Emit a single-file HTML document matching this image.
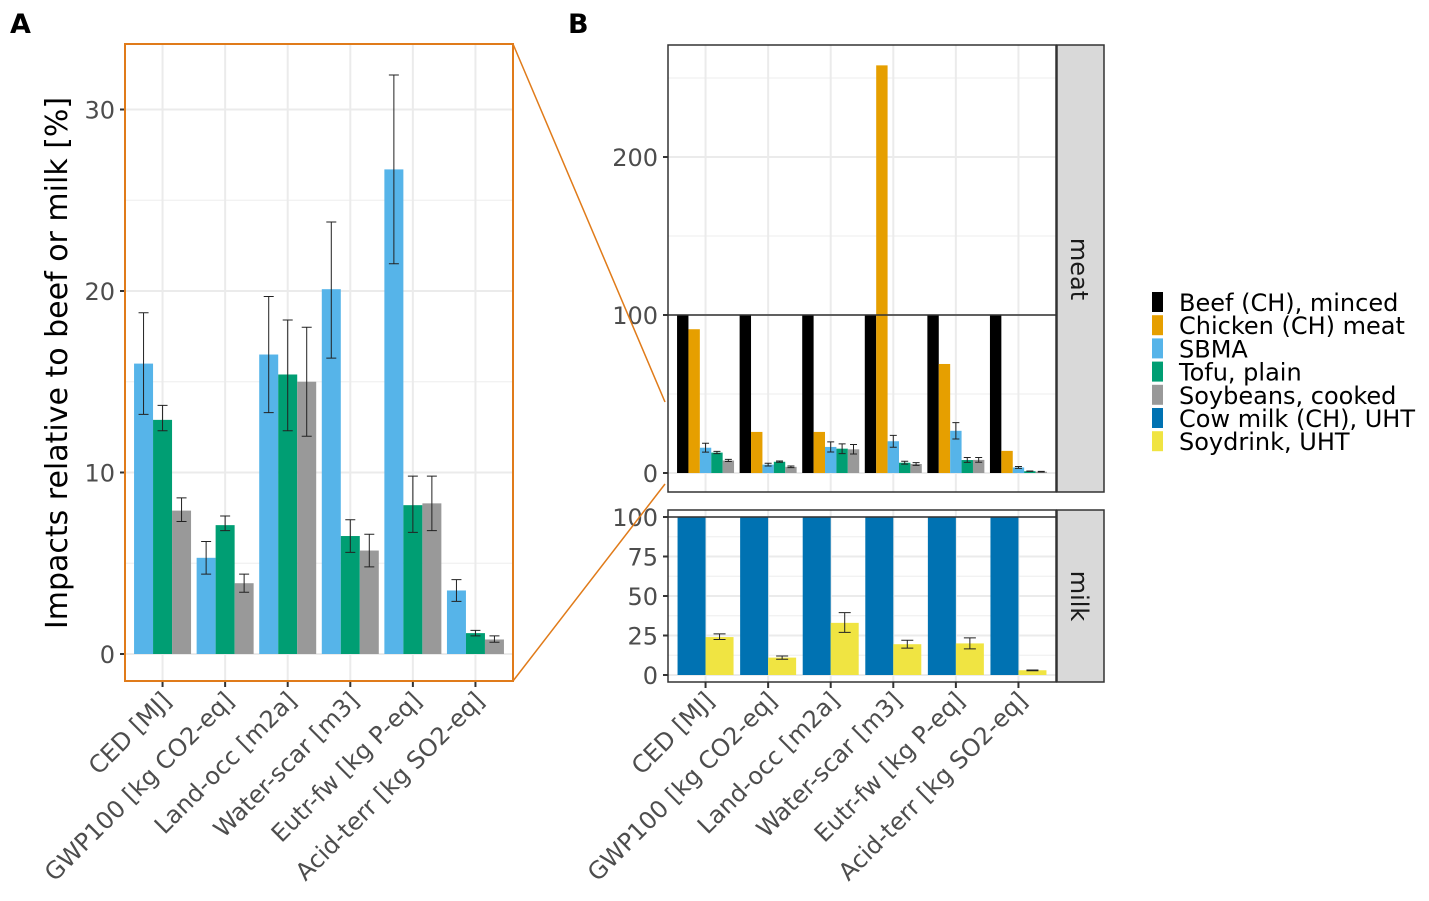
<!DOCTYPE html>
<html><head><meta charset="utf-8"><style>
body{margin:0;background:#fff;}
svg{display:block;font-family:"DejaVu Sans","Liberation Sans",sans-serif;}
</style></head><body>
<svg id="chart" width="1429" height="901" viewBox="0 0 1429 901">
<g id="gA"></g>
<g id="gM"></g>
<g id="gK"></g>
<g id="gX"></g>
<g id="gL"></g>
</svg>
<script>
const categories=["CED [MJ]","GWP100 [kg CO2-eq]","Land-occ [m2a]","Water-scar [m3]","Eutr-fw [kg P-eq]","Acid-terr [kg SO2-eq]"];
const sbma=[16.0,5.3,16.5,20.1,26.7,3.5];
const sbmaLo=[13.2,4.4,13.3,16.3,21.5,2.9];
const sbmaHi=[18.8,6.2,19.7,23.8,31.9,4.1];
const tofu=[12.9,7.1,15.4,6.5,8.2,1.15];
const tofuLo=[12.3,6.8,12.3,5.6,6.7,1.0];
const tofuHi=[13.7,7.6,18.4,7.4,9.8,1.3];
const soy=[7.9,3.9,15.0,5.7,8.3,0.8];
const soyLo=[7.3,3.4,12.0,4.8,6.8,0.65];
const soyHi=[8.6,4.4,18.0,6.6,9.8,1.0];
const beef=[100,100,100,100,100,100];
const chicken=[91,26,26,258,69,14];
const cowMilk=[100,100,100,100,100,100];
const soydrink=[24,11,33,19.5,20,3];
const soydrinkLo=[22.5,10,27,17,16.5,2.7];
const soydrinkHi=[26,12,39.5,22,23.5,3.2];
const ticksA=[0,10,20,30];
const ticksMeat=[0,100,200];
const ticksMilk=[0,25,50,75,100];
const legendLabels=["Beef (CH), minced","Chicken (CH) meat","SBMA","Tofu, plain","Soybeans, cooked","Cow milk (CH), UHT","Soydrink, UHT"];
const legendColors=["#000000","#E69F00","#56B4E9","#009E73","#999999","#0072B2","#F0E442"];

const NS="http://www.w3.org/2000/svg";
function mk(tag,attrs,parent){const e=document.createElementNS(NS,tag);for(const k in attrs)e.setAttribute(k,attrs[k]);parent.appendChild(e);return e;}
const C={beef:"#000000",chicken:"#E69F00",sbma:"#56B4E9",tofu:"#009E73",soy:"#999999",cow:"#0072B2",sd:"#F0E442"};

function panel(g,x0,x1,y0,y1,yScale,ticks,minor){
  mk('rect',{x:x0,y:y0,width:x1-x0,height:y1-y0,fill:'#fff'},g);
  minor.forEach(v=>{mk('line',{x1:x0,x2:x1,y1:yScale(v),y2:yScale(v),stroke:'#f0f0f0','stroke-width':1.2},g);});
  ticks.forEach(v=>{mk('line',{x1:x0,x2:x1,y1:yScale(v),y2:yScale(v),stroke:'#ebebeb','stroke-width':2},g);});
  const step=(x1-x0)/6.2;
  categories.forEach((c,i)=>{const cx=x0+step*(0.6+i);mk('line',{x1:cx,x2:cx,y1:y0,y2:y1,stroke:'#ebebeb','stroke-width':2},g);});
  ticks.forEach(v=>{
    mk('line',{x1:x0-5,x2:x0,y1:yScale(v),y2:yScale(v),stroke:'#333','stroke-width':2},g);
    const t=mk('text',{x:x0-10,y:yScale(v)+9,'text-anchor':'end','font-size':24,fill:'#4d4d4d'},g);t.textContent=v;
    
    
  });
  return step;
}
function bar(g,x,w,y0,y,fill,name){const r=mk('rect',{x:x,y:Math.min(y,y0),width:w,height:Math.abs(y0-y),fill:fill},g);
  
  }
function err(g,cx,ylo,yhi,hw){
  mk('path',{d:`M${cx-hw},${ylo}H${cx+hw}M${cx},${ylo}V${yhi}M${cx-hw},${yhi}H${cx+hw}`,stroke:'#222','stroke-width':1,fill:'none'},g);}

// Panel A
const gA=document.getElementById('gA');
const yA=v=>654-v*18.15;
const xa0=125,xa1=513;
const stepA=panel(gA,xa0,xa1,44,681,yA,ticksA,[5,15,25]);
const bwA=19;
categories.forEach((c,i)=>{
  const cx=xa0+stepA*(0.6+i);const gx=cx-1.5*bwA;
  [[sbma,sbmaLo,sbmaHi,C.sbma,'bar-sbma'],[tofu,tofuLo,tofuHi,C.tofu,'bar-tofu'],[soy,soyLo,soyHi,C.soy,'bar-soybeans']].forEach((s,k)=>{
    bar(gA,gx+k*bwA,bwA,yA(0),yA(s[0][i]),s[3],s[4]);
    err(gA,gx+k*bwA+bwA/2,yA(s[1][i]),yA(s[2][i]),5);
  });
  mk('line',{x1:cx,x2:cx,y1:681,y2:687,stroke:'#333','stroke-width':2},gA);
});
mk('rect',{x:xa0,y:44,width:xa1-xa0,height:637,fill:'none',stroke:'#E07B1A','stroke-width':2},gA);
const tA=mk('text',{x:10,y:33,'font-size':27,'font-weight':'bold',fill:'#000'},gA);tA.textContent='A';

const yt=mk('text',{transform:'translate(67,363) rotate(-90)','text-anchor':'middle','font-size':30,fill:'#000'},gA);yt.textContent='Impacts relative to beef or milk [%]';


// Panel B meat
const gM=document.getElementById('gM');
const yM=v=>473-v*1.58;
const xb0=668,xb1=1056;
const stepB=panel(gM,xb0,xb1,45,492,yM,ticksMeat,[50,150,250]);
const bwB=11.4;
const meatSeries=[[beef,null,null,C.beef,'bar-beef'],[chicken,null,null,C.chicken,'bar-chicken'],[sbma,sbmaLo,sbmaHi,C.sbma,'bar-sbma'],[tofu,tofuLo,tofuHi,C.tofu,'bar-tofu'],[soy,soyLo,soyHi,C.soy,'bar-soybeans']];
categories.forEach((c,i)=>{
  const cx=xb0+stepB*(0.6+i);const gx=cx-2.5*bwB;
  meatSeries.forEach((s,k)=>{
    bar(gM,gx+k*bwB,bwB,yM(0),Math.max(yM(s[0][i]),45),s[3],s[4]);
    if(s[1])err(gM,gx+k*bwB+bwB/2,yM(s[1][i]),yM(s[2][i]),3.5);
  });
});
mk('line',{x1:xb0,x2:xb1,y1:yM(100),y2:yM(100),stroke:'#333','stroke-width':1.5},gM);
mk('rect',{x:xb0,y:45,width:xb1-xb0,height:447,fill:'none',stroke:'#333','stroke-width':1.5},gM);
mk('rect',{x:1057,y:45,width:47,height:447,fill:'#d9d9d9',stroke:'#333','stroke-width':1.5},gM);
const sm=mk('text',{transform:'translate(1071,269) rotate(90)','text-anchor':'middle','font-size':24,fill:'#1a1a1a'},gM);sm.textContent='meat';

const tB=mk('text',{x:568,y:33,'font-size':27,'font-weight':'bold',fill:'#000'},gM);tB.textContent='B';


// Panel B milk
const gK=document.getElementById('gK');
const yK=v=>675-v*1.58;
panel(gK,xb0,xb1,510,682,yK,ticksMilk,[12.5,37.5,62.5,87.5]);
const bwK=28;
categories.forEach((c,i)=>{
  const cx=xb0+stepB*(0.6+i);
  bar(gK,cx-bwK,bwK,yK(0),yK(cowMilk[i]),C.cow,'bar-cow-milk');
  bar(gK,cx,bwK,yK(0),yK(soydrink[i]),C.sd,'bar-soydrink');
  err(gK,cx+bwK/2,yK(soydrinkLo[i]),yK(soydrinkHi[i]),6);
  mk('line',{x1:cx,x2:cx,y1:682,y2:688,stroke:'#333','stroke-width':2},gK);
});
mk('line',{x1:xb0,x2:xb1,y1:yK(100),y2:yK(100),stroke:'#333','stroke-width':1.5},gK);
mk('rect',{x:xb0,y:510,width:xb1-xb0,height:172,fill:'none',stroke:'#333','stroke-width':1.5},gK);
mk('rect',{x:1057,y:510,width:47,height:172,fill:'#d9d9d9',stroke:'#333','stroke-width':1.5},gK);
const sk=mk('text',{transform:'translate(1071,596) rotate(90)','text-anchor':'middle','font-size':24,fill:'#1a1a1a'},gK);sk.textContent='milk';


// zoom connector lines
mk('line',{x1:513,y1:44,x2:665,y2:402,stroke:'#E07B1A','stroke-width':1.5},gK);
mk('line',{x1:513,y1:681,x2:665,y2:484,stroke:'#E07B1A','stroke-width':1.5},gK);

// x labels
const gX=document.getElementById('gX');
categories.forEach((c,i)=>{
  [[xa0+stepA*(0.6+i)],[xb0+stepB*(0.6+i)]].forEach(p=>{
    const t=mk('text',{transform:`translate(${p[0]+10},${702}) rotate(-45)`,'text-anchor':'end','font-size':24,fill:'#4d4d4d'},gX);
    t.textContent=c;
    
    
  });
});

// legend
const gL=document.getElementById('gL');
legendLabels.forEach((l,i)=>{
  const y=292+i*23.2;
  const r=mk('rect',{x:1152,y:y,width:11,height:20,fill:legendColors[i]},gL);
  
  
  const t=mk('text',{x:1179,y:y+19,'font-size':24,fill:'#000'},gL);t.textContent=l;
  
  
});
</script>
</body></html>
